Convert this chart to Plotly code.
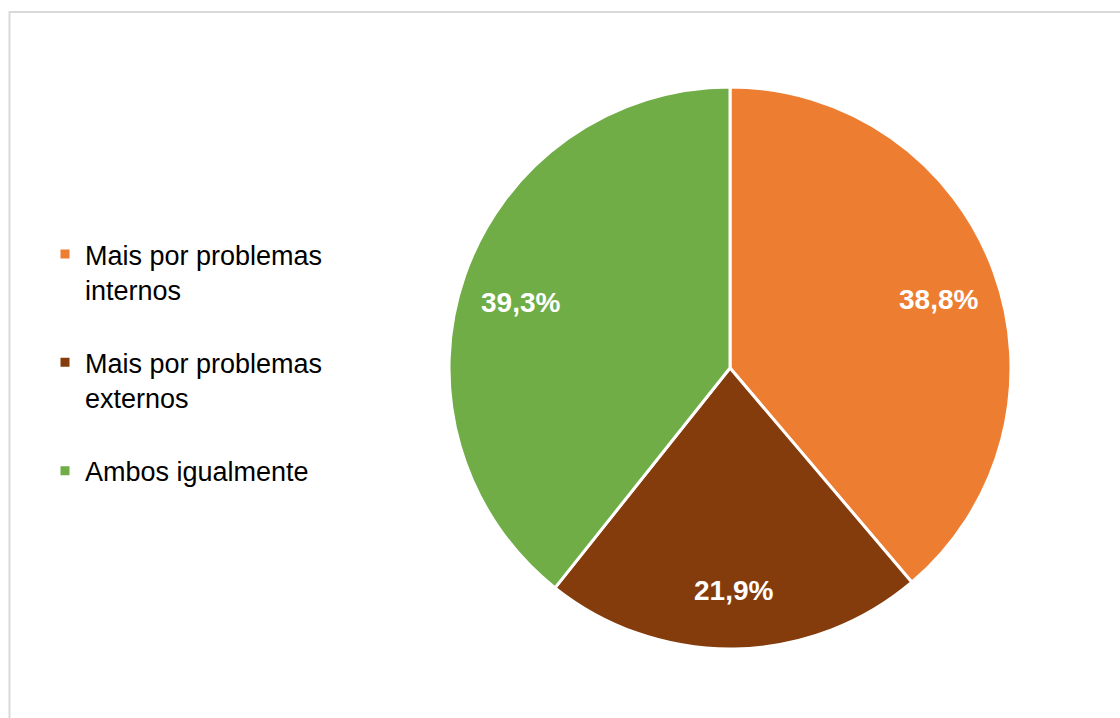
import math
import plotly.graph_objects as go

labels = ["Mais por problemas<br>internos", "Mais por problemas<br>externos", "Ambos igualmente"]
values = [38.8, 21.9, 39.3]
colors = ["#ED7D31", "#843C0C", "#70AD47"]

W, H = 1120, 718
cx, cy, r = 730, 368, 281
FONT = "Liberation Sans, Arial"

# pad two-line entries with a blank line so the legend rows are spaced apart
legend_names = [lab + "<br> " if "<br>" in lab else lab for lab in labels]

fig = go.Figure(
    go.Pie(
        labels=legend_names,
        values=values,
        sort=False,
        direction="clockwise",
        rotation=0,
        marker=dict(colors=colors, line=dict(color="white", width=3)),
        textinfo="none",
        domain=dict(x=[(cx - r) / W, (cx + r) / W], y=[(H - cy - r) / H, (H - cy + r) / H]),
        hoverinfo="label+percent",
    )
)

# percentage labels placed along each slice's bisector
total = sum(values)
annotations = []
start = 0.0
for v in values:
    mid = (start + v / 2) / total * 2 * math.pi
    start += v
    rx = 0.79 * r * math.sin(mid)
    ry = 0.79 * r * math.cos(mid)
    annotations.append(
        dict(
            x=(cx + rx) / W,
            y=(H - cy + ry) / H,
            xref="paper",
            yref="paper",
            text=f"{v / total * 100:.1f}%".replace(".", ","),
            showarrow=False,
            xanchor="center",
            yanchor="middle",
            yshift=-8 * abs(math.sin(mid)),
            font=dict(family=FONT, size=28, color="white", weight="bold"),
        )
    )

fig.update_layout(
    width=W,
    height=H,
    margin=dict(l=0, r=0, t=0, b=0),
    paper_bgcolor="white",
    showlegend=True,
    legend=dict(
        x=45 / W,
        y=(H - 230) / H,
        xanchor="left",
        yanchor="top",
        font=dict(family=FONT, size=27, color="#000000"),
        valign="top",
        itemwidth=30,
    ),
    annotations=annotations,
    shapes=[
        dict(
            type="rect",
            xref="paper",
            yref="paper",
            x0=9.5 / W,
            x1=1.05,
            y0=-0.05,
            y1=(H - 12) / H,
            line=dict(color="#D9D9D9", width=2),
            fillcolor="rgba(0,0,0,0)",
            layer="below",
        )
    ],
)

fig.write_html("out.html")
